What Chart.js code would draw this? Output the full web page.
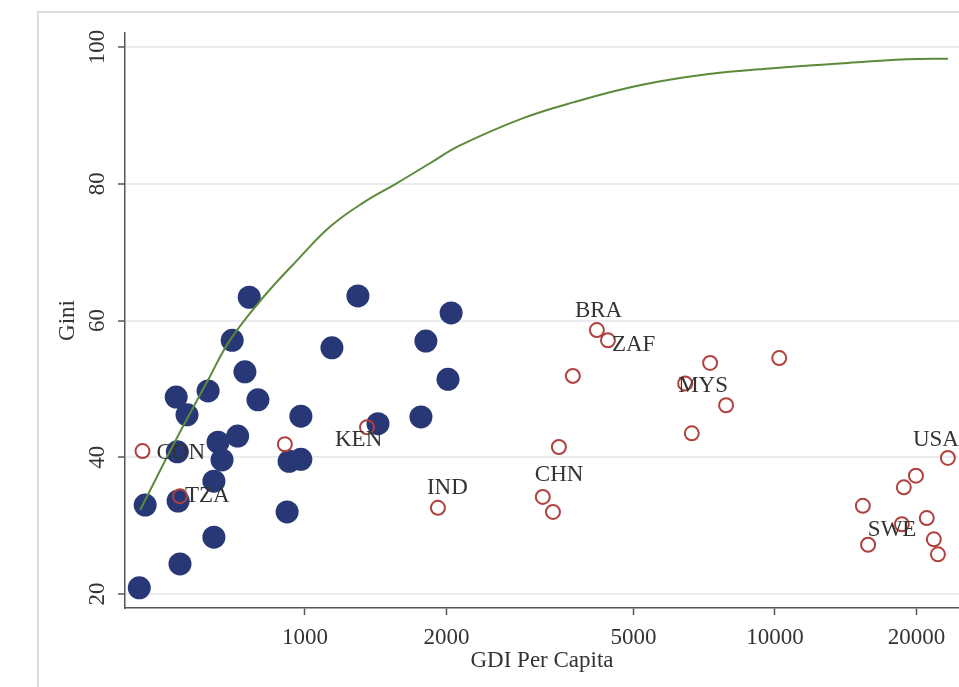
<!DOCTYPE html>
<html>
<head>
<meta charset="utf-8">
<script src="https://cdn.jsdelivr.net/npm/chart.js@4"></script>
<style>
  html, body { margin: 0; padding: 0; background: #fff; }
  #wrap { width: 959px; height: 687px; }
</style>
</head>
<body>
<div id="wrap"><canvas id="giniChart" width="959" height="687"></canvas></div>
<script>
// axis ticks
const xTicks = [1000, 2000, 5000, 10000, 20000];
const yTicks = [20, 40, 60, 80, 100];

// filled navy points (GDI per capita, Gini)
const navyX = [444, 457, 537, 542, 640, 640, 666, 653, 535, 561, 532, 622, 719, 745, 700, 761, 794, 925, 980, 980, 916, 1141, 1296, 1430, 1765, 1808, 2015, 2046];
const navyY = [20.9, 33.0, 33.6, 24.4, 28.3, 36.5, 39.6, 42.2, 40.8, 46.2, 48.8, 49.7, 43.1, 52.5, 57.1, 63.4, 48.4, 39.4, 39.7, 46.0, 32.0, 56.0, 63.6, 44.9, 45.9, 57.0, 51.4, 61.1];

// hollow red points with country codes ('' = no label)
const redX = [451, 542, 906, 1355, 1918, 3206, 3370, 3469, 3715, 4179, 4412, 7277, 6440, 7870, 6653, 10210, 23330, 19950, 18800, 15380, 21040, 18620, 15780, 21780, 22220];
const redY = [40.9, 34.3, 41.9, 44.4, 32.6, 34.2, 32.0, 41.5, 51.9, 58.6, 57.1, 53.8, 50.8, 47.6, 43.5, 54.5, 39.9, 37.3, 35.6, 32.9, 31.1, 30.2, 27.2, 28.0, 25.8];
const redCodes = ['CON', 'TZA', '', 'KEN', 'IND', 'CHN', '', '', '', 'BRA', 'ZAF', '', 'MYS', '', '', '', 'USA', '', '', '', '', 'SWE', '', '', ''];

// fitted curve
const curveX = [446, 528, 622, 692, 815, 962, 1130, 1328, 1570, 1845, 2137, 2911, 3718, 5160, 7165, 9908, 13750, 19080, 23340];
const curveY = [32.3, 42.2, 51.3, 57.1, 63.4, 68.8, 73.7, 77.2, 80.1, 83.0, 85.6, 89.6, 91.9, 94.4, 96.0, 96.9, 97.6, 98.2, 98.3];

// where each label sits relative to its marker (px)
const labelOffset = {
    CON: [14, 2], TZA: [5, 0], KEN: [-32, 13], IND: [-11, -20], CHN: [-8, -22],
    BRA: [-22, -19], ZAF: [4, 5], MYS: [-7, 3], USA: [-35, -18], SWE: [-34, 6]
};

const serif = '"Liberation Serif", "DejaVu Serif", serif';
const fontSize = 23;
const textColor = '#333333';
const axisColor = '#555555';

const toPoints = (xs, ys) => xs.map((x, i) => ({ x: x, y: ys[i] }));

const framePlugin = {
    id: 'frame',
    beforeDraw(chart) {
        const ctx = chart.ctx;
        ctx.save();
        ctx.fillStyle = '#ffffff';
        ctx.fillRect(0, 0, chart.width, chart.height);
        ctx.strokeStyle = '#dddddd';
        ctx.lineWidth = 2;
        ctx.strokeRect(38, 12, chart.width + 10, chart.height + 10);
        ctx.restore();
    },
    afterDraw(chart) {
        // rotated y tick labels
        const ctx = chart.ctx;
        const y = chart.scales.y;
        ctx.save();
        ctx.font = fontSize + 'px ' + serif;
        ctx.fillStyle = textColor;
        ctx.textAlign = 'center';
        ctx.textBaseline = 'middle';
        yTicks.forEach(v => {
            ctx.save();
            ctx.translate(98, y.getPixelForValue(v));
            ctx.rotate(-Math.PI / 2);
            ctx.fillText(String(v), 0, 0);
            ctx.restore();
        });
        ctx.restore();
    },
    afterDatasetsDraw(chart) {
        const ctx = chart.ctx;
        const meta = chart.getDatasetMeta(1);
        ctx.save();
        ctx.font = fontSize + 'px ' + serif;
        ctx.fillStyle = textColor;
        ctx.textAlign = 'left';
        ctx.textBaseline = 'middle';
        redCodes.forEach((code, i) => {
            if (!code) return;
            const pt = meta.data[i];
            const off = labelOffset[code] || [8, 0];
            ctx.fillText(code, pt.x + off[0], pt.y + off[1]);
        });
        ctx.restore();
    }
};

const ctx = document.getElementById('giniChart').getContext('2d');
new Chart(ctx, {
    type: 'scatter',
    data: {
        datasets: [
            {
                type: 'line',
                label: 'Fit',
                data: toPoints(curveX, curveY),
                borderColor: '#5b8a3a',
                borderWidth: 2,
                pointRadius: 0,
                fill: false,
                tension: 0.4
            },
            {
                label: 'Labelled',
                data: toPoints(redX, redY),
                pointRadius: 7,
                pointBorderWidth: 2,
                pointBorderColor: '#b0413e',
                pointBackgroundColor: 'rgba(0,0,0,0)'
            },
            {
                label: 'Other',
                data: toPoints(navyX, navyY),
                pointRadius: 11.5,
                pointBorderWidth: 0,
                pointBackgroundColor: '#283776'
            }
        ]
    },
    options: {
        responsive: false,
        animation: false,
        layout: { autoPadding: false, padding: { top: 33, left: 0, right: 0, bottom: 10 } },
        plugins: {
            legend: { display: false },
            tooltip: { enabled: false }
        },
        scales: {
            x: {
                type: 'logarithmic',
                min: 414,
                max: 24636,
                afterBuildTicks: s => { s.ticks = xTicks.map(v => ({ value: v })); },
                afterFit: s => { s.height = 69; s.paddingLeft = 0; s.paddingRight = 0; },
                ticks: {
                    autoSkip: false,
                    maxRotation: 0,
                    padding: 9,
                    color: textColor,
                    font: { family: serif, size: fontSize },
                    callback: v => String(v)
                },
                grid: { drawOnChartArea: false, tickLength: 7, tickColor: axisColor, tickWidth: 1.5 },
                border: { color: axisColor, width: 1.5 },
                title: {
                    display: true,
                    text: 'GDI Per Capita',
                    color: textColor,
                    font: { family: serif, size: fontSize },
                    padding: { top: 0, bottom: 2 }
                }
            },
            y: {
                min: 17.95,
                max: 102.05,
                afterBuildTicks: s => { s.ticks = yTicks.map(v => ({ value: v })); },
                afterFit: s => { s.width = 125; },
                ticks: { display: false },
                grid: { color: '#e8ecef', lineWidth: 2, tickLength: 7, tickColor: axisColor, tickWidth: 1.5 },
                border: { color: axisColor, width: 1.5 },
                title: {
                    display: true,
                    text: 'Gini',
                    color: textColor,
                    font: { family: serif, size: fontSize },
                    padding: { top: 54, bottom: 0 }
                }
            }
        }
    },
    plugins: [framePlugin]
});
</script>
</body>
</html>
